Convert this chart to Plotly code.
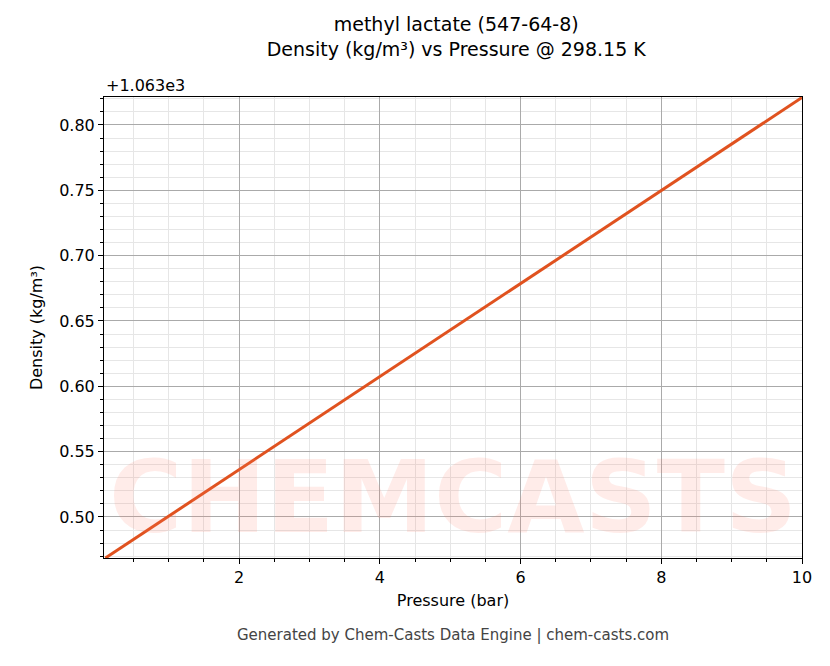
import plotly.graph_objects as go

## Data
pressure = [0.1, 2, 4, 6, 8, 10]                                   # bar
density = [1063.4686, 1063.5362, 1063.6074, 1063.6786, 1063.7500, 1063.8210]  # kg/m3
offset = 1063.0
y_plot = [d - offset for d in density]

fig = go.Figure()
fig.add_trace(go.Scatter(x=pressure, y=y_plot, mode="lines",
                         line=dict(color="#e0521f", width=3), showlegend=False))

# faint watermark
fig.add_annotation(text="<b>CHEMCASTS</b>", xref="paper", yref="paper", x=0.5, y=0.0,
                   xanchor="center", yanchor="bottom",
                   showarrow=False, font=dict(size=100, color="rgba(255,120,100,0.14)",
                                              family="DejaVu Sans"))

fig.add_annotation(text="+1.063e3", xref="paper", yref="paper", x=0, y=1.0,
                   xanchor="left", yanchor="bottom", showarrow=False,
                   font=dict(size=16, color="black"))
fig.add_annotation(text="Generated by Chem-Casts Data Engine | chem-casts.com",
                   xref="paper", yref="paper", x=0.5, y=-0.19, showarrow=False,
                   font=dict(size=15, color="#444"))

axis_common = dict(showline=True, linecolor="black", mirror=True, ticks="outside",
                   tickcolor="black", ticklen=5, showgrid=True, gridcolor="#aaa",
                   gridwidth=0.8, zeroline=False, tickfont=dict(size=16, color="black"))
fig.update_xaxes(range=[0.08, 10], dtick=2, tick0=0,
                 title=dict(text="Pressure (bar)", font=dict(size=16, color="black"), standoff=8),
                 minor=dict(dtick=0.5, ticks="outside", ticklen=3, tickcolor="black",
                            showgrid=True, gridcolor="#e6e6e6", gridwidth=0.6),
                 **axis_common)
fig.update_yaxes(range=[0.4686, 0.8214], dtick=0.05, tick0=0, tickformat=".2f",
                 title=dict(text="Density (kg/m³)", font=dict(size=16, color="black"), standoff=12),
                 minor=dict(dtick=0.01, ticks="outside", ticklen=3, tickcolor="black",
                            showgrid=True, gridcolor="#e6e6e6", gridwidth=0.6),
                 **axis_common)

fig.update_layout(
    width=830, height=666,
    margin=dict(l=96, r=36, t=89, b=116),
    plot_bgcolor="white", paper_bgcolor="white",
    font=dict(family="DejaVu Sans", color="black"),
    title=dict(text="methyl lactate (547-64-8)<br>Density (kg/m³) vs Pressure @ 298.15 K",
               x=0.54, xanchor="center", y=0.965, yanchor="top",
               font=dict(size=19, color="black")),
)

fig.write_html("out.html")
